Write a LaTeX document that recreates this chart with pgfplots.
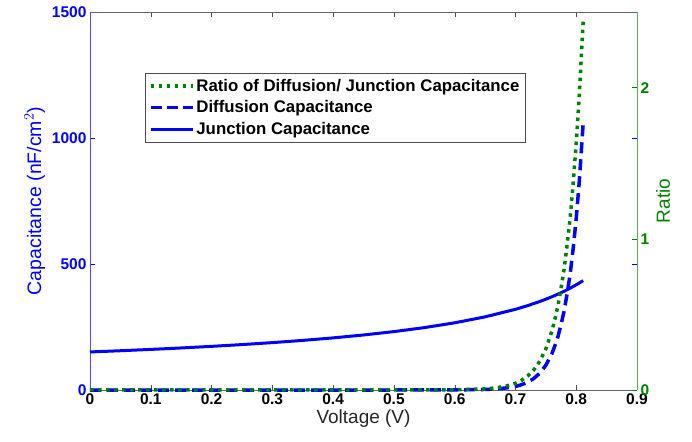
\documentclass[border=0pt]{standalone}
\usepackage{pgfplots}
\pgfplotsset{compat=1.18}
\usepackage{fontspec}
\setmainfont{Liberation Sans}

\definecolor{capblue}{RGB}{0,0,255}
\definecolor{ratiogreen}{RGB}{0,128,0}
\definecolor{axgreen}{RGB}{90,170,90}

\pgfplotsset{
  common/.style={
    scale only axis,
    width=547pt, height=378pt,
    xmin=0, xmax=0.9,
    clip=false,
    tick align=inside,
    major tick length=5pt,
    /pgf/number format/assume math mode=true,
    /pgf/number format/1000 sep={},
    tick label style={font=\fontsize{15.5}{17}\selectfont\bfseries},
    legend image code/.code={\draw[#1] (0pt,0pt) -- (42pt,0pt);},
  },
}

\begin{document}
\begin{tikzpicture}
\begin{axis}[
  common,
  ymin=0, ymax=1500,
  ytick={0,500,1000,1500},
  xtick={0,0.1,...,0.9},
  separate axis lines,
  x axis line style={black!60},
  y axis line style={capblue!70},
  ytick style={capblue},
  xtick style={black!70},
  yticklabel style={text=capblue},
  ylabel={Capacitance (nF/cm$^2$)},
  ylabel style={font=\fontsize{19.5}{21}\selectfont, text=capblue},
  xlabel={Voltage (V)},
  xlabel style={font=\fontsize{19}{21}\selectfont, text=black!85, yshift=2pt},
]
% junction capacitance
\addplot[capblue, line width=3pt] coordinates {
  (0,151) (0.05,155.8) (0.1,161.1) (0.15,166.8) (0.2,173.2) (0.25,180.2)
  (0.3,188.0) (0.35,196.8) (0.4,206.8) (0.45,218.3) (0.5,231.7)
  (0.55,247.5) (0.6,266.6) (0.65,290.2) (0.7,320.2) (0.72,334.7)
  (0.74,351.2) (0.75,360.3) (0.76,370.0) (0.77,380.5) (0.78,391.7)
  (0.79,404.0) (0.8,417.5) (0.805,424.5) (0.8114,434.2)
};
% diffusion capacitance
\addplot[capblue, line width=3.5pt, dash pattern=on 11pt off 6pt] coordinates {
  (0,0) (0.1,0) (0.2,0) (0.3,0) (0.4,0) (0.5,0) (0.55,0.04) (0.6,0.3)
  (0.65,2.1) (0.67,4.5) (0.69,9.7) (0.7,14.2) (0.71,20.9) (0.72,30.8)
  (0.73,45.3) (0.74,66.7) (0.75,98.1) (0.76,144.3) (0.765,176.5)
  (0.77,212.3) (0.775,259.7) (0.78,312.5) (0.785,382) (0.79,459.5)
  (0.795,562) (0.8,681) (0.805,826) (0.8114,1058)
};
\end{axis}

\begin{axis}[
  common,
  ymin=0, ymax=2.5,
  ytick={0,1,2},
  axis x line=none,
  axis y line*=right,
  y axis line style={axgreen, -},
  ytick style={ratiogreen},
  yticklabel style={text=ratiogreen},
  ylabel={Ratio},
  ylabel style={font=\fontsize{19}{21}\selectfont, text=ratiogreen},
  legend cell align=left,
  legend style={
    at={(0.1,0.839)}, anchor=north west,
    draw=black!70, fill=white,
    font=\fontsize{16.8}{19}\selectfont\bfseries,
    inner xsep=4pt, inner ysep=4pt,
    row sep=4pt,
  },
]
\addplot[ratiogreen, line width=3.5pt, dash pattern=on 3.5pt off 4.5pt] coordinates {
  (0,0) (0.1,0) (0.2,0) (0.3,0) (0.4,0) (0.5,0) (0.6,0.001) (0.65,0.007)
  (0.67,0.015) (0.69,0.031) (0.7,0.044) (0.71,0.064) (0.72,0.092)
  (0.73,0.132) (0.74,0.190) (0.75,0.272) (0.76,0.390) (0.765,0.470)
  (0.77,0.558) (0.775,0.673) (0.78,0.798) (0.785,0.960) (0.79,1.137)
  (0.795,1.369) (0.8,1.631) (0.805,1.946) (0.8114,2.437)
};
\addlegendentry{Ratio of Diffusion/ Junction Capacitance}
\addlegendimage{capblue, line width=3.5pt, dash pattern=on 11pt off 5pt}
\addlegendentry{Diffusion Capacitance}
\addlegendimage{capblue, line width=3pt}
\addlegendentry{Junction Capacitance}
\end{axis}

\path ([shift={(-90pt,-51pt)}]current axis.south west)
  rectangle ([shift={(55pt,12pt)}]current axis.north east);
\end{tikzpicture}
\end{document}
